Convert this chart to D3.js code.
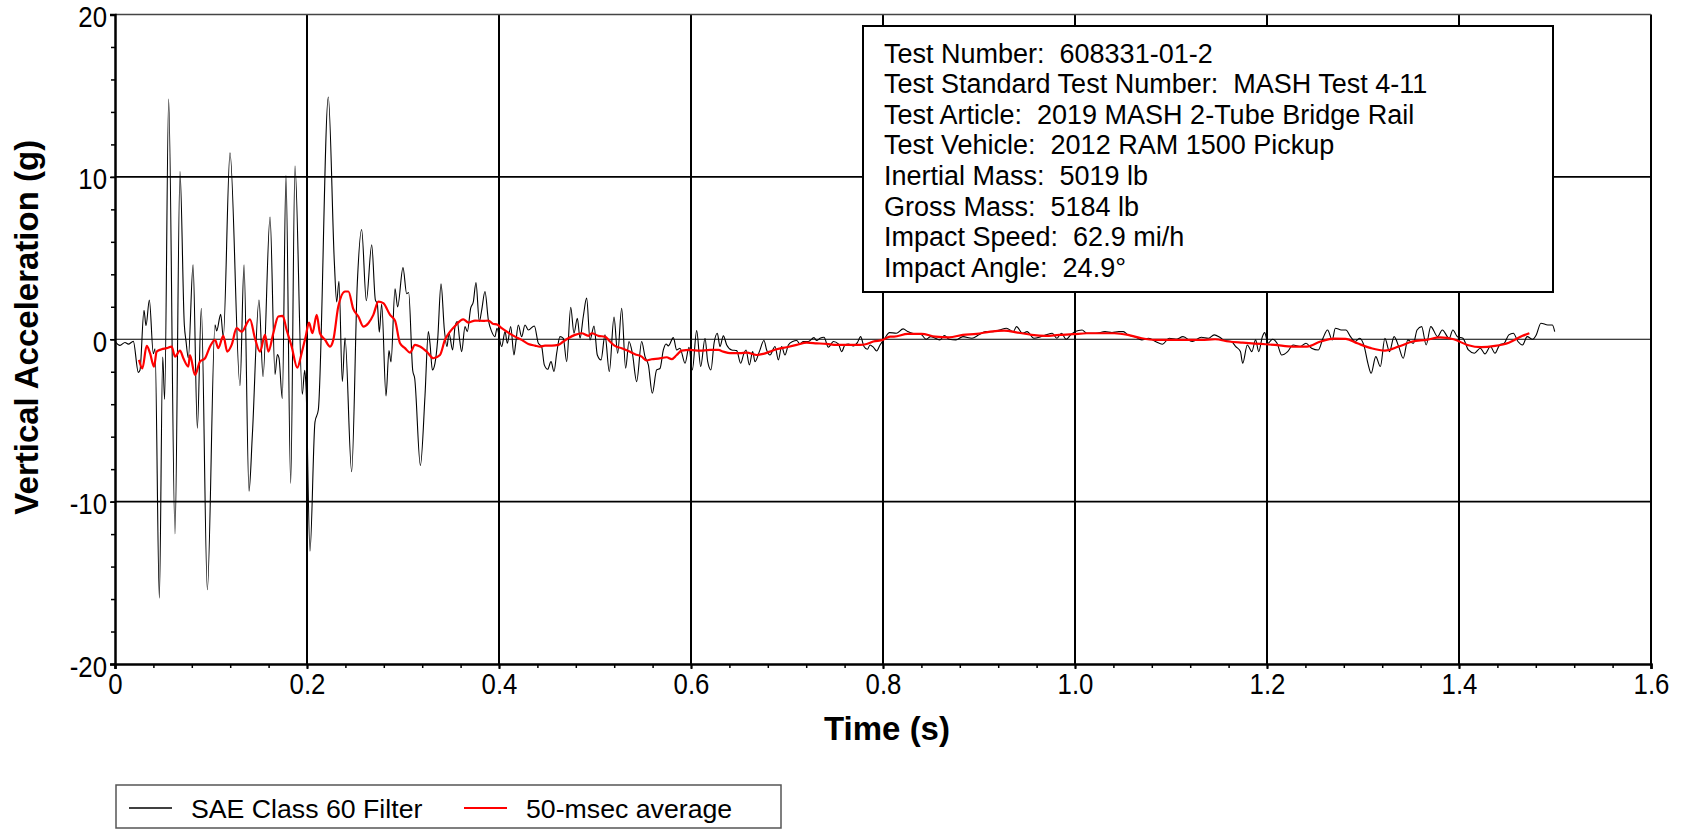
<!DOCTYPE html>
<html lang="en">
<head>
<meta charset="utf-8">
<title>Vertical Acceleration</title>
<script src="https://d3js.org/d3.v7.min.js"></script>
<style>
  body { margin: 0; background: #fff; }
  svg { display: block; font-family: "Liberation Sans", Arial, sans-serif; }
  .info text, .legend text { white-space: pre; }
</style>
</head>
<body>
<svg id="chart" width="1681" height="829"></svg>
<script>
// SAE Class 60 filtered trace (time in s, acceleration in g)
const filterTime = [
  0, 0.0052, 0.0104, 0.0139, 0.0191, 0.0243, 0.0260, 0.0302, 0.0323, 0.0358,
  0.0399, 0.0417, 0.0462, 0.0497, 0.0517, 0.0559, 0.0625, 0.0677, 0.0722, 0.0740,
  0.0764, 0.0813, 0.0858, 0.0899, 0.0962, 0.1042, 0.1059, 0.1101, 0.1128, 0.1198,
  0.1302, 0.1344, 0.1396, 0.1431, 0.1500, 0.1542, 0.1615, 0.1667, 0.1691, 0.1708,
  0.1743, 0.1781, 0.1830, 0.1875, 0.1951, 0.1976, 0.1990, 0.2031, 0.2083, 0.2118,
  0.2222, 0.2285, 0.2309, 0.2333, 0.2368, 0.2396, 0.2465, 0.2524, 0.2569, 0.2618,
  0.2674, 0.2712, 0.2733, 0.2753, 0.2778, 0.2823, 0.2854, 0.2875, 0.2917, 0.2944,
  0.3000, 0.3038, 0.3059, 0.3101, 0.3122, 0.3181, 0.3229, 0.3264, 0.3281, 0.3306,
  0.3333, 0.3361, 0.3396, 0.3431, 0.3458, 0.3479, 0.3517, 0.3542, 0.3566, 0.3590,
  0.3611, 0.3646, 0.3670, 0.3705, 0.3733, 0.3760, 0.3795, 0.3819, 0.3854, 0.3889,
  0.3924, 0.3958, 0.3979, 0.4028, 0.4063, 0.4087, 0.4122, 0.4156, 0.4174, 0.4201,
  0.4236, 0.4271, 0.4306, 0.4368, 0.4410, 0.4444, 0.4472, 0.4507, 0.4542, 0.4573,
  0.4601, 0.4635, 0.4670, 0.4705, 0.4747, 0.4781, 0.4816, 0.4844, 0.4878, 0.4913,
  0.4948, 0.4990, 0.5024, 0.5063, 0.5104, 0.5149, 0.5198, 0.5236, 0.5278, 0.5319,
  0.5354, 0.5389, 0.5434, 0.5486, 0.5521, 0.5556, 0.5597, 0.5642, 0.5677, 0.5712,
  0.5740, 0.5764, 0.5816, 0.5851, 0.5885, 0.5938, 0.5979, 0.6014, 0.6059, 0.6101,
  0.6146, 0.6174, 0.6208, 0.6240, 0.6274, 0.6302, 0.6337, 0.6372, 0.6424, 0.6476,
  0.6517, 0.6552, 0.6573, 0.6608, 0.6642, 0.6667, 0.6712, 0.6760, 0.6788, 0.6823,
  0.6875, 0.6910, 0.6944, 0.6979, 0.7014, 0.7059, 0.7101, 0.7135, 0.7170, 0.7222,
  0.7281, 0.7309, 0.7344, 0.7385, 0.7431, 0.7483, 0.7535, 0.7569, 0.7604, 0.7639,
  0.7691, 0.7733, 0.7767, 0.7802, 0.7837, 0.7865, 0.7899, 0.7934, 0.7969, 0.8019,
  0.8067, 0.8139, 0.8210, 0.8258, 0.8306, 0.8354, 0.8401, 0.8449, 0.8497, 0.8545,
  0.8593, 0.8640, 0.8688, 0.8760, 0.8832, 0.8927, 0.8999, 0.9070, 0.9142, 0.9214,
  0.9286, 0.9357, 0.9391, 0.9453, 0.9501, 0.9572, 0.9644, 0.9701, 0.9763, 0.9811,
  0.9859, 0.9907, 0.9955, 1.0002, 1.0074, 1.0122, 1.0217, 1.0313, 1.0385, 1.0456,
  1.0504, 1.0552, 1.0624, 1.0695, 1.0767, 1.0839, 1.0910, 1.0982, 1.1054, 1.1125,
  1.1221, 1.1316, 1.1388, 1.1450, 1.1508, 1.1556, 1.1627, 1.1675, 1.1723, 1.1747,
  1.1795, 1.1842, 1.1881, 1.1914, 1.1952, 1.1976, 1.2010, 1.2057, 1.2105, 1.2153,
  1.2215, 1.2272, 1.2344, 1.2406, 1.2464, 1.2535, 1.2583, 1.2631, 1.2679, 1.2712,
  1.2774, 1.2822, 1.2870, 1.2918, 1.2965, 1.3013, 1.3051, 1.3085, 1.3133, 1.3181,
  1.3228, 1.3276, 1.3324, 1.3372, 1.3419, 1.3467, 1.3525, 1.3563, 1.3611, 1.3658,
  1.3706, 1.3778, 1.3826, 1.3898, 1.3936, 1.3983, 1.4041, 1.4098, 1.4160, 1.4222,
  1.4270, 1.4327, 1.4375, 1.4423, 1.4471, 1.4519, 1.4566, 1.4614, 1.4662, 1.4710,
  1.4767, 1.4805, 1.4853, 1.4925, 1.4973, 1.4997
];
const filterAccel = [
  -0.13, -0.38, -0.20, -0.30, -0.13, -2.04, -1.91, 1.79, 0.84, 2.42,
  -0.89, -0.59, -15.94, -1.10, -3.70, 14.80, -11.99, 10.33, 0.89, -0.13,
  -1.15, 4.59, -5.48, 1.91, -15.43, 0.89, 0.51, 1.53, 0.13, 11.48,
  -2.86, 4.59, -9.36, -5.87, 2.42, -2.30, 7.53, -2.17, -0.94, -1.15,
  -3.65, 10.08, -8.88, 10.66, -3.39, -1.91, -2.93, -13.06, -5.10, -4.34,
  14.92, 4.72, 2.30, 3.57, -2.60, 0.08, -8.16, 3.44, 6.76, 2.37,
  5.82, 2.42, 2.17, 0.43, 2.17, -3.49, -0.69, -1.40, 3.11, 1.99,
  4.41, 2.81, 2.88, -1.91, -2.42, -7.78, -3.50, 0.47, -0.25, -1.89,
  -1.48, -0.04, 3.41, 0.57, -0.45, 0.37, -0.66, 0.78, 1.09, -0.04,
  -0.76, 0.78, 0.47, 1.91, 2.32, 3.49, 1.09, 1.77, 2.94, 1.19,
  0.47, 0.16, 0.68, -0.45, 0.47, -0.25, 0.78, -0.97, -0.25, 0.88,
  0.16, 0.88, 0.57, 0.82, -0.25, -0.45, -1.58, -1.85, -1.38, -1.99,
  -0.86, 0.16, 0.06, -1.38, 1.97, 0.37, 1.29, 0.06, 1.40, 2.53,
  -0.04, 0.82, -0.97, -1.27, 0.27, -1.99, 1.36, -0.86, 1.91, -1.79,
  -0.14, -0.86, -2.61, -0.14, -1.07, -1.58, -3.33, -1.89, -1.80, -0.66,
  -0.29, -0.41, 0.10, -0.66, -0.55, -1.48, -0.49, -1.89, 0.53, -1.68,
  0.06, -1.38, -1.89, -0.25, 0.37, -0.45, 0.21, -0.35, -0.66, -0.70,
  -1.48, -0.86, -0.66, -1.58, -0.76, -1.38, -0.76, -0.08, -0.66, -0.97,
  -0.45, -1.27, -0.45, -0.97, -0.35, -0.14, -0.08, -0.29, -0.14, -0.14,
  0.10, -0.08, 0.06, 0.12, -0.49, -0.14, -0.29, -0.76, -0.35, -0.29,
  -0.41, -0.21, 0.16, -0.45, -0.62, -0.35, -0.49, -0.72, -0.35, 0.06,
  0.41, 0.37, 0.64, 0.47, 0.37, 0.33, 0.27, 0.00, 0.16, 0.06,
  -0.04, 0.23, 0.00, -0.04, 0.16, 0.06, 0.27, 0.47, 0.47, 0.57,
  0.68, 0.47, 0.78, 0.37, 0.47, 0.06, 0.16, 0.27, 0.37, 0.06,
  0.37, 0.00, 0.27, 0.47, 0.57, 0.37, 0.37, 0.47, 0.41, 0.47,
  0.47, 0.27, 0.16, -0.04, 0.06, -0.14, -0.31, 0.06, 0.00, 0.16,
  -0.14, 0.12, 0.06, 0.27, 0.12, -0.08, -0.14, -0.45, -0.76, -1.48,
  -0.35, -0.76, -0.04, -0.76, 0.16, 0.41, -0.25, 0.00, -0.25, -0.97,
  -0.76, -0.35, -0.45, -0.25, -0.55, -0.66, 0.06, 0.57, -0.04, 0.68,
  0.57, 0.57, 0.16, -0.14, 0.06, -0.45, -1.48, -2.09, -1.07, -1.68,
  0.06, -0.76, 0.16, -0.45, -1.17, -0.04, -0.25, 0.57, 0.78, -0.35,
  0.78, 0.16, 0.57, 0.06, 0.57, 0.16, 0.06, -0.66, -0.86, -0.55,
  -0.90, -0.45, -0.86, -0.35, -0.25, 0.27, 0.37, -0.14, -0.35, 0.16,
  0.00, 0.27, 0.99, 0.88, 0.88, 0.47
];

// 50-msec moving average trace
const avgTime = [
  0.0250, 0.0285, 0.0330, 0.0365, 0.0406, 0.0434, 0.0486, 0.0538, 0.0590, 0.0625,
  0.0677, 0.0712, 0.0764, 0.0781, 0.0833, 0.0885, 0.0938, 0.0990, 0.1042, 0.1076,
  0.1128, 0.1170, 0.1215, 0.1267, 0.1319, 0.1406, 0.1458, 0.1510, 0.1563, 0.1597,
  0.1649, 0.1701, 0.1747, 0.1788, 0.1840, 0.1899, 0.1944, 0.1986, 0.2021, 0.2056,
  0.2101, 0.2135, 0.2188, 0.2240, 0.2274, 0.2326, 0.2396, 0.2431, 0.2483, 0.2535,
  0.2587, 0.2639, 0.2691, 0.2743, 0.2795, 0.2865, 0.2917, 0.2969, 0.3021, 0.3073,
  0.3125, 0.3177, 0.3247, 0.3316, 0.3385, 0.3437, 0.3490, 0.3542, 0.3628, 0.3681,
  0.3750, 0.3837, 0.3889, 0.3941, 0.3976, 0.4028, 0.4097, 0.4167, 0.4236, 0.4306,
  0.4375, 0.4427, 0.4479, 0.4549, 0.4618, 0.4670, 0.4722, 0.4792, 0.4861, 0.4931,
  0.4965, 0.5035, 0.5104, 0.5156, 0.5208, 0.5278, 0.5347, 0.5417, 0.5486, 0.5538,
  0.5590, 0.5660, 0.5747, 0.5799, 0.5851, 0.5903, 0.5990, 0.6094, 0.6198, 0.6285,
  0.6337, 0.6406, 0.6510, 0.6580, 0.6684, 0.6753, 0.6823, 0.6892, 0.6997, 0.7101,
  0.7205, 0.7309, 0.7413, 0.7517, 0.7622, 0.7760, 0.7830, 0.7899, 0.7997, 0.8073,
  0.8115, 0.8258, 0.8401, 0.8545, 0.8688, 0.8832, 0.8975, 0.9118, 0.9262, 0.9405,
  0.9548, 0.9692, 0.9835, 0.9978, 1.0122, 1.0265, 1.0409, 1.0552, 1.0695, 1.0839,
  1.0982, 1.1125, 1.1317, 1.1460, 1.1603, 1.1747, 1.1938, 1.2081, 1.2272, 1.2416,
  1.2559, 1.2702, 1.2822, 1.2941, 1.3085, 1.3228, 1.3372, 1.3515, 1.3658, 1.3802,
  1.3945, 1.4088, 1.4232, 1.4375, 1.4519, 1.4662, 1.4733
];
const avgAccel = [
  -1.27, -1.79, -0.41, -0.86, -1.68, -0.76, -0.62, -0.55, -0.45, -1.07,
  -0.70, -1.17, -1.68, -0.97, -2.20, -1.38, -1.17, -0.45, -0.04, -0.55,
  0.21, -0.76, -0.35, 0.68, 0.47, 1.23, 0.06, -0.76, 0.27, -0.76,
  0.37, 1.40, 1.44, 0.57, -0.45, -1.75, -0.86, 0.16, 1.03, 0.37,
  1.50, 0.37, -0.04, -0.45, -0.04, 2.01, 2.94, 2.94, 1.85, 1.40,
  0.78, 0.99, 1.50, 2.32, 2.22, 1.50, 1.15, -0.25, -0.55, -0.82,
  -0.35, -0.45, -0.76, -1.17, -0.97, -0.04, 0.47, 0.82, 1.23, 1.03,
  1.15, 1.13, 1.15, 0.94, 0.92, 0.68, 0.41, 0.16, -0.04, -0.29,
  -0.39, -0.45, -0.39, -0.39, -0.35, -0.14, 0.06, 0.27, 0.37, 0.21,
  0.37, 0.21, 0.16, -0.14, -0.41, -0.55, -0.72, -0.92, -1.07, -1.31,
  -1.23, -1.19, -1.11, -1.23, -0.97, -0.70, -0.66, -0.70, -0.66, -0.66,
  -0.76, -0.86, -0.86, -0.82, -0.97, -0.90, -0.76, -0.62, -0.49, -0.35,
  -0.21, -0.25, -0.29, -0.35, -0.35, -0.35, -0.29, -0.14, -0.04, 0.16,
  0.16, 0.33, 0.33, 0.16, 0.12, 0.27, 0.33, 0.47, 0.53, 0.41,
  0.27, 0.21, 0.27, 0.31, 0.37, 0.37, 0.37, 0.27, 0.06, -0.04,
  -0.04, -0.04, -0.04, 0.00, -0.14, -0.21, -0.29, -0.35, -0.45, -0.45,
  -0.14, 0.04, 0.02, -0.25, -0.55, -0.70, -0.45, -0.14, -0.04, 0.12,
  0.00, -0.35, -0.49, -0.41, -0.21, 0.21, 0.37
];

const xTicks = [0, 0.2, 0.4, 0.6, 0.8, 1.0, 1.2, 1.4, 1.6];
const yTicks = [-20, -10, 0, 10, 20];

const infoLines = [
  "Test Number:  608331-01-2",
  "Test Standard Test Number:  MASH Test 4-11",
  "Test Article:  2019 MASH 2-Tube Bridge Rail",
  "Test Vehicle:  2012 RAM 1500 Pickup",
  "Inertial Mass:  5019 lb",
  "Gross Mass:  5184 lb",
  "Impact Speed:  62.9 mi/h",
  "Impact Angle:  24.9°"
];
const legendItems = [
  { label: "SAE Class 60 Filter", color: "#000" },
  { label: "50-msec average", color: "#ff0000" }
];

const svg = d3.select("#chart");
const plotLeft = 115, plotRight = 1651, plotTop = 14.5, plotBottom = 664;

const x = d3.scaleLinear().domain([0, 1.6]).range([plotLeft, plotRight]);
const y = d3.scaleLinear().domain([-20, 20]).range([plotBottom, plotTop]);

svg.append("rect").attr("width", 1681).attr("height", 829).attr("fill", "#fff");

// grid
const grid = svg.append("g");
grid.selectAll("line.v")
  .data(xTicks.filter(d => d > 0))
  .enter().append("line")
  .attr("x1", d => x(d)).attr("x2", d => x(d))
  .attr("y1", plotTop).attr("y2", plotBottom)
  .attr("stroke", "#000").attr("stroke-width", 2);
grid.selectAll("line.h")
  .data(yTicks.filter(d => d > -20))
  .enter().append("line")
  .attr("x1", plotLeft).attr("x2", plotRight)
  .attr("y1", d => y(d)).attr("y2", d => y(d))
  .attr("stroke", d => d === 20 ? "#444" : "#000")
  .attr("stroke-width", d => d === 0 ? 1 : 1.6);

// minor ticks
const minorX = d3.range(0, 1.6001, 0.04);
const minorY = d3.range(-20, 20.001, 2);
svg.append("g")
  .attr("transform", `translate(0,${plotBottom})`)
  .call(d3.axisBottom(x).tickValues(minorX).tickSize(4).tickFormat(""))
  .call(g => g.select(".domain").remove())
  .selectAll("line").attr("stroke-width", 1.5);
svg.append("g")
  .attr("transform", `translate(${plotLeft},0)`)
  .call(d3.axisLeft(y).tickValues(minorY).tickSize(4).tickFormat(""))
  .call(g => g.select(".domain").remove())
  .selectAll("line").attr("stroke-width", 1.5);

// main axes
const sx = 0.86;
const xAxis = svg.append("g")
  .attr("transform", `translate(0,${plotBottom})`)
  .call(d3.axisBottom(x).tickValues(xTicks).tickSize(5).tickPadding(4)
    .tickFormat(d => d === 0 ? "0" : d.toFixed(1)));
xAxis.select(".domain").attr("stroke-width", 2.5);
xAxis.selectAll("line").attr("stroke-width", 2);
xAxis.selectAll("text")
  .attr("font-size", 30).attr("font-family", "Liberation Sans, Arial, sans-serif")
  .attr("fill", "#000").attr("transform", `scale(${sx},1)`);

const yAxis = svg.append("g")
  .attr("transform", `translate(${plotLeft},0)`)
  .call(d3.axisLeft(y).tickValues(yTicks).tickSize(5).tickPadding(3)
    .tickFormat(d => String(d)));
yAxis.select(".domain").attr("stroke-width", 2.5);
yAxis.selectAll("line").attr("stroke-width", 1.6);
yAxis.selectAll("text")
  .attr("font-size", 30).attr("font-family", "Liberation Sans, Arial, sans-serif")
  .attr("fill", "#000")
  .attr("x", -8 / sx)
  .attr("dy", "0.4em")
  .attr("transform", `scale(${sx},1)`);

// series
const filterData = filterTime.map((t, i) => [t, filterAccel[i]]);
const avgData = avgTime.map((t, i) => [t, avgAccel[i]]);
const line = d3.line().x(d => x(d[0])).y(d => y(d[1])).curve(d3.curveMonotoneX);

svg.append("path").datum(filterData)
  .attr("d", line).attr("fill", "none")
  .attr("stroke", "#000").attr("stroke-width", 1.1);
svg.append("path").datum(avgData)
  .attr("d", line).attr("fill", "none")
  .attr("stroke", "#ff0000").attr("stroke-width", 2.2);

// info box
const info = svg.append("g").attr("class", "info");
info.append("rect")
  .attr("x", 863).attr("y", 26).attr("width", 690).attr("height", 266)
  .attr("fill", "#fff").attr("stroke", "#000").attr("stroke-width", 2);
info.selectAll("text")
  .data(infoLines)
  .enter().append("text")
  .attr("x", 884)
  .attr("y", (d, i) => 62.5 + i * 30.6)
  .attr("font-size", 27)
  .text(d => d);

// axis titles
svg.append("text")
  .attr("x", (plotLeft + plotRight) / 2 + 4).attr("y", 740)
  .attr("text-anchor", "middle")
  .attr("font-size", 33).attr("font-weight", "bold")
  .text("Time (s)");
svg.append("text")
  .attr("transform", `translate(38,${(plotTop + plotBottom) / 2 - 12}) rotate(-90)`)
  .attr("text-anchor", "middle")
  .attr("font-size", 33).attr("font-weight", "bold")
  .text("Vertical Acceleration (g)");

// legend
const legend = svg.append("g").attr("class", "legend");
legend.append("rect")
  .attr("x", 116).attr("y", 785).attr("width", 665).attr("height", 43)
  .attr("fill", "#fff").attr("stroke", "#555").attr("stroke-width", 1.5);
const legendX = [129, 464];
legendItems.forEach((item, i) => {
  legend.append("line")
    .attr("x1", legendX[i]).attr("x2", legendX[i] + 43)
    .attr("y1", 808).attr("y2", 808)
    .attr("stroke", item.color).attr("stroke-width", i === 0 ? 1.3 : 2.2);
  legend.append("text")
    .attr("x", legendX[i] + 62).attr("y", 818)
    .attr("font-size", 26.7)
    .text(item.label);
});
</script>
</body>
</html>
